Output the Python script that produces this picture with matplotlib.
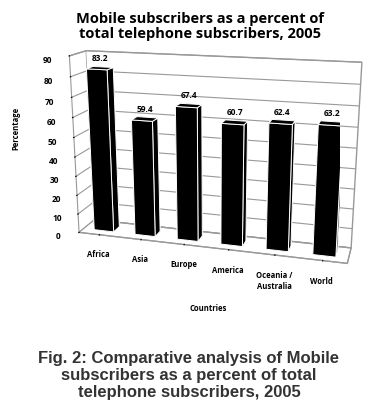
import numpy as np
import matplotlib
matplotlib.use("Agg")
import matplotlib.pyplot as plt
from mpl_toolkits.mplot3d import proj3d

plt.rcParams['font.family'] = ['Open Sans', 'DejaVu Sans']
plt.rcParams['font.weight'] = 'bold'

countries = ['Africa', 'Asia', 'Europe', 'America', 'Oceania /\nAustralia', 'World']
values = [83.2, 59.4, 67.4, 60.7, 62.4, 63.2]
z_ticks = list(range(0, 91, 10))

title = 'Mobile subscribers as a percent of\ntotal telephone subscribers, 2005'
caption = ('Fig. 2: Comparative analysis of Mobile\n'
           'subscribers as a percent of total\n'
           'telephone subscribers, 2005')

fig = plt.figure(figsize=(3.78, 4.14), dpi=100)
ax = fig.add_axes([0.05, 0.30, 1.0, 0.64], projection='3d')
ax.set_proj_type('persp', focal_length=0.5)

xs = np.arange(len(countries))
ax.bar3d(xs - 0.24, 0.3, 0, 0.48, 0.4, values, color='black',
         edgecolor='white', linewidth=0.7, shade=False)

ax.set_xlim(-0.5, len(countries) - 0.5)
ax.set_ylim(0, 1)
ax.set_zlim(0, 90)
ax.set_xticks(xs)
ax.set_xticklabels(countries, fontsize=5.5)
ax.set_yticks([])
ax.set_zticks(z_ticks)
ax.set_zticklabels([str(t) for t in z_ticks], fontsize=6)
ax.tick_params(pad=0)
ax.zaxis.set_ticks_position('lower')

for axis in (ax.xaxis, ax.yaxis, ax.zaxis):
    axis.set_pane_color((1, 1, 1, 1))
    axis.pane.set_edgecolor('0.6')
    axis.line.set_color('0.6')
    axis.label.set_visible(False)
    axis.offsetText.set_visible(False)
ax.xaxis._axinfo['grid']['color'] = (1, 1, 1, 0)
ax.yaxis._axinfo['grid']['color'] = (1, 1, 1, 0)
ax.zaxis._axinfo['grid']['color'] = '0.6'
ax.zaxis._axinfo['grid']['linewidth'] = 0.8

ax.set_box_aspect((4.8, 0.65, 3.2), zoom=1.25)
ax.view_init(elev=16, azim=-74)

# value labels: project the 3D bar tops to 2D so the text sits above each bar
fig.canvas.draw()
for x, v in zip(xs, values):
    x2, y2, _ = proj3d.proj_transform(x, 0.5, v + 3, ax.get_proj())
    ax.text2D(x2, y2, f'{v}', transform=ax.transData, ha='center', va='bottom', fontsize=6)

fig.text(0.53, 0.972, title, ha='center', va='top', fontsize=10.5, linespacing=1.1)
fig.text(0.043, 0.69, 'Percentage', rotation=90, ha='center', va='center', fontsize=5.5)
fig.text(0.55, 0.255, 'Countries', ha='center', va='center', fontsize=5.5)
fig.text(0.5, 0.093, caption, ha='center', va='center', fontsize=12,
         family='Liberation Sans', color='#333333', linespacing=1.15)

fig.savefig('out.png', dpi=100)
